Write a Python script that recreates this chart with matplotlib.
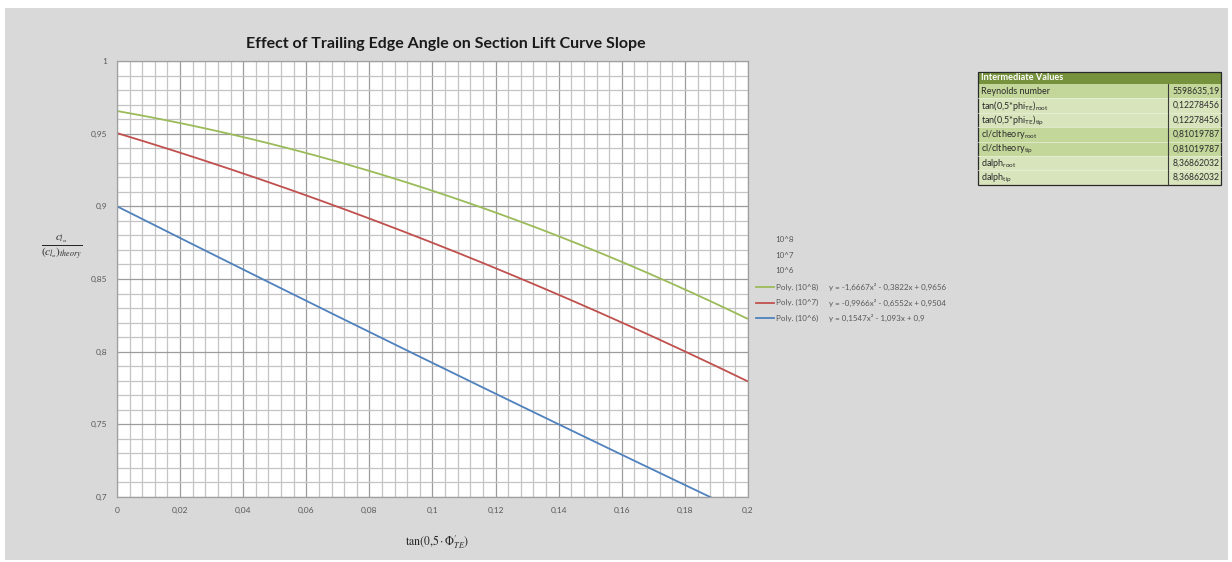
import numpy as np
import matplotlib
matplotlib.use("Agg")
import matplotlib.pyplot as plt
from matplotlib.lines import Line2D
from matplotlib.patches import Rectangle
from matplotlib.ticker import MultipleLocator, FuncFormatter

plt.rcParams["font.family"] = ["Lato", "DejaVu Sans"]
plt.rcParams["mathtext.fontset"] = "stix"

# ---- data -------------------------------------------------------------
series_names = ["10^8", "10^7", "10^6"]
# quadratic trendline coefficients (a, b, c) for y = a x^2 + b x + c
trend_coeffs = [
    [-1.6667, -0.3822, 0.9656],
    [-0.9966, -0.6552, 0.9504],
    [0.1547, -1.093, 0.9],
]
trend_equations = [
    "y = -1,6667x² - 0,3822x + 0,9656",
    "y = -0,9966x² - 0,6552x + 0,9504",
    "y = 0,1547x² - 1,093x + 0,9",
]
series_colors = ["#9BBB59", "#C0504D", "#4F81BD"]
x_limits = [0.0, 0.2]
y_limits = [0.7, 1.0]

table_title = "Intermediate Values"
table_labels = [
    "Reynolds number",
    r"tan(0,5*phi$_{\mathregular{TE}}$)$_{\mathregular{root}}$",
    r"tan(0,5*phi$_{\mathregular{TE}}$)$_{\mathregular{tip}}$",
    r"cl/cltheory$_{\mathregular{root}}$",
    r"cl/cltheory$_{\mathregular{tip}}$",
    r"dalph$_{\mathregular{root}}$",
    r"dalph$_{\mathregular{tip}}$",
]
table_values = [
    "5598635,19",
    "0,12278456",
    "0,12278456",
    "0,81019787",
    "0,81019787",
    "8,36862032",
    "8,36862032",
]
table_row_colors = ["#C4D79B", "#D8E4BC", "#D8E4BC", "#C4D79B",
                    "#C4D79B", "#D8E4BC", "#D8E4BC"]

# ---- figure -----------------------------------------------------------
W, H = 1232, 562
fig = plt.figure(figsize=(W / 100, H / 100), dpi=100, facecolor="white")


def fx(px):
    return px / W


def fy(py):
    return 1 - py / H


# chart area background
fig.add_artist(Rectangle((fx(5), fy(560)), fx(1228) - fx(5), fy(8) - fy(560),
                         transform=fig.transFigure, facecolor="#D9D9D9",
                         edgecolor="none", zorder=0))

ax = fig.add_axes([fx(117), fy(497), fx(748) - fx(117), fy(61) - fy(497)])
ax.set_facecolor("white")
ax.set_xlim(*x_limits)
ax.set_ylim(*y_limits)

ax.xaxis.set_major_locator(MultipleLocator(0.02))
ax.xaxis.set_minor_locator(MultipleLocator(0.004))
ax.yaxis.set_major_locator(MultipleLocator(0.05))
ax.yaxis.set_minor_locator(MultipleLocator(0.01))


def comma_fmt(v, pos):
    s = f"{v:.3f}".rstrip("0").rstrip(".")
    if s == "-0":
        s = "0"
    return s.replace(".", ",")


ax.xaxis.set_major_formatter(FuncFormatter(comma_fmt))
ax.yaxis.set_major_formatter(FuncFormatter(comma_fmt))
ax.grid(which="minor", color="#C4C4C4", lw=0.9)
ax.grid(which="major", color="#9C9C9C", lw=0.9)
ax.set_axisbelow(True)
ax.tick_params(which="both", length=0, labelsize=6, labelcolor="#595959")
ax.tick_params(axis="x", pad=7)
ax.tick_params(axis="y", pad=7)
for sp in ax.spines.values():
    sp.set_color("#A0A0A0")
    sp.set_linewidth(0.9)

xs = np.linspace(x_limits[0], x_limits[1], 400)
for coeffs, color, name in zip(trend_coeffs, series_colors, series_names):
    ax.plot(xs, np.polyval(coeffs, xs), color=color, lw=1.3,
            label=f"Poly. ({name})", solid_capstyle="butt")

# title and axis labels
fig.text(fx(446), fy(44), "Effect of Trailing Edge Angle on Section Lift Curve Slope",
         ha="center", va="center", fontsize=11.5, fontweight="bold", color="#1A1A1A")
fig.text(fx(62), fy(248), r"$\frac{c_{l_\alpha}}{(c_{l_\alpha})_{theory}}$",
         ha="center", va="center", fontsize=11.5, color="#262626")
fig.text(fx(437), fy(542), r"$\mathrm{tan}(0{,}5\cdot\Phi^{\prime}_{TE})$",
         ha="center", va="center", fontsize=8.5, color="#262626")

# legend
legend_color = "#595959"
for i, name in enumerate(series_names):
    fig.text(fx(775), fy(239 + 16 * i), name, ha="left", va="center",
             fontsize=5.8, color=legend_color)
for i, (name, color, eq) in enumerate(zip(series_names, series_colors, trend_equations)):
    y = fy(287 + 15.5 * i)
    fig.add_artist(Line2D([fx(756), fx(774)], [y, y], transform=fig.transFigure,
                          color=color, lw=1.3))
    fig.text(fx(776), y, f"Poly. ({name})", ha="left", va="center",
             fontsize=5.8, color=legend_color)
    fig.text(fx(829), y, eq, ha="left", va="center", fontsize=5.8, color=legend_color)

# intermediate values table
t_left, t_mid, t_right = 978, 1168, 1221
t_top, head_bot, row_h = 72, 84, 14.4
fig.add_artist(Rectangle((fx(t_left), fy(head_bot)), fx(t_right) - fx(t_left),
                         fy(t_top) - fy(head_bot), transform=fig.transFigure,
                         facecolor="#76923C", edgecolor="none"))
fig.text(fx(t_left + 3), fy((t_top + head_bot) / 2), table_title, ha="left",
         va="center", fontsize=6.6, fontweight="bold", color="white")
for i, (lab, val, col) in enumerate(zip(table_labels, table_values, table_row_colors)):
    top = head_bot + row_h * i
    bot = top + row_h
    fig.add_artist(Rectangle((fx(t_left), fy(bot)), fx(t_right) - fx(t_left),
                             fy(top) - fy(bot), transform=fig.transFigure,
                             facecolor=col, edgecolor="none"))
    if i > 0:
        fig.add_artist(Line2D([fx(t_left), fx(t_right)], [fy(top), fy(top)],
                              transform=fig.transFigure, color="#EAF0DC", lw=0.5))
    yc = fy((top + bot) / 2)
    fig.text(fx(t_left + 3), yc, lab, ha="left", va="center", fontsize=6.5,
             color="#2B2B2B")
    fig.text(fx(t_right - 1.5), yc, val, ha="right", va="center", fontsize=6.2,
             color="#2B2B2B")
t_bot = head_bot + row_h * len(table_labels)
fig.add_artist(Line2D([fx(t_mid), fx(t_mid)], [fy(head_bot), fy(t_bot)],
                      transform=fig.transFigure, color="#3A3A3A", lw=0.8))
fig.add_artist(Rectangle((fx(t_left), fy(t_bot)), fx(t_right) - fx(t_left),
                         fy(t_top) - fy(t_bot), transform=fig.transFigure,
                         facecolor="none", edgecolor="#2A2A2A", lw=0.9))

fig.savefig("out.png", dpi=100, facecolor=fig.get_facecolor())
